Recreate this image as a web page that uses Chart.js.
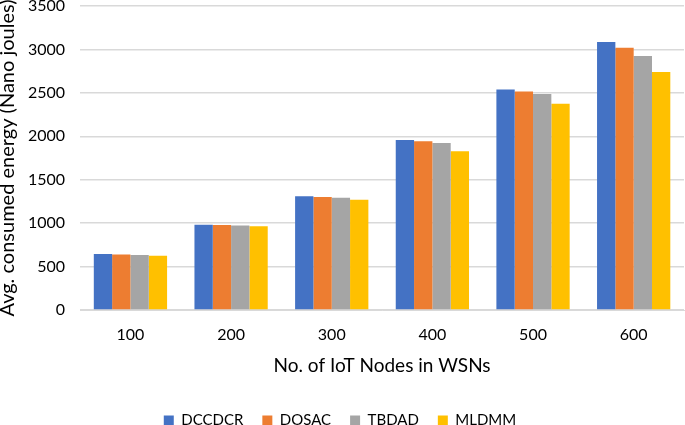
<!DOCTYPE html>
<html><head><meta charset="utf-8">
<script src="https://cdn.jsdelivr.net/npm/chart.js@4/dist/chart.umd.min.js"></script>
<style>html,body{margin:0;padding:0;background:#fff;}#c{display:block;}</style>
</head><body>
<canvas id="c" width="685" height="425"></canvas>
<script>
const categories = ["100","200","300","400","500","600"];
const seriesNames = ["DCCDCR","DOSAC","TBDAD","MLDMM"];
const dccdcr = [645, 982, 1309, 1957, 2540, 3085];
const dosac  = [640, 978, 1301, 1942, 2517, 3020];
const tbdad  = [633, 974, 1293, 1922, 2487, 2924];
const mldmm  = [625, 963, 1270, 1827, 2375, 2740];
const colors = ["#4472C4","#ED7D31","#A5A5A5","#FFC000"];
const FONT = "Lato, 'Open Sans', sans-serif";
const values = [dccdcr, dosac, tbdad, mldmm];
const legendHeightFix = {
  id: 'legendHeightFix',
  afterInit(chart) {
    const lg = chart.legend;
    if (!lg) return;
    const f = lg.fit.bind(lg);
    lg.fit = function() { f(); this.height = 31; };
  }
};
new Chart(document.getElementById('c'), {
  type: 'bar',
  data: {
    labels: categories,
    datasets: seriesNames.map((n,i)=>({label:n,data:values[i],backgroundColor:colors[i],borderWidth:0,barPercentage:1.0,categoryPercentage:0.728}))
  },
  plugins:[legendHeightFix],
  options: {
    responsive:false, animation:false,
    layout:{padding:{left:-4,right:1,top:6,bottom:0}},
    plugins:{
      legend:{position:'bottom',labels:{boxWidth:10,boxHeight:10,font:{family:FONT,size:15},color:'#000',padding:19}},
      tooltip:{enabled:false}
    },
    scales:{
      x:{grid:{display:false,drawTicks:false},border:{color:'#d9d9d9'},ticks:{color:'#000',font:{family:FONT,size:16},padding:15},
         title:{display:true,text:'No. of IoT Nodes in WSNs',color:'#000',font:{family:FONT,size:19},padding:{top:-5,bottom:17}}},
      y:{min:0,max:3500,
         afterFit:(s)=>{s.paddingTop=0;s.paddingBottom=0;},
         ticks:{stepSize:500,color:'#000',font:{family:FONT,size:16},padding:15,callback:(v)=>String(v)},
         grid:{color:'#d9d9d9',lineWidth:1.5,drawTicks:false},border:{display:false},
         title:{display:true,text:'Avg. consumed energy (Nano joules)',color:'#000',font:{family:FONT,size:20},padding:{top:0,bottom:-7}}}
    }
  }
});
</script>
</body></html>
